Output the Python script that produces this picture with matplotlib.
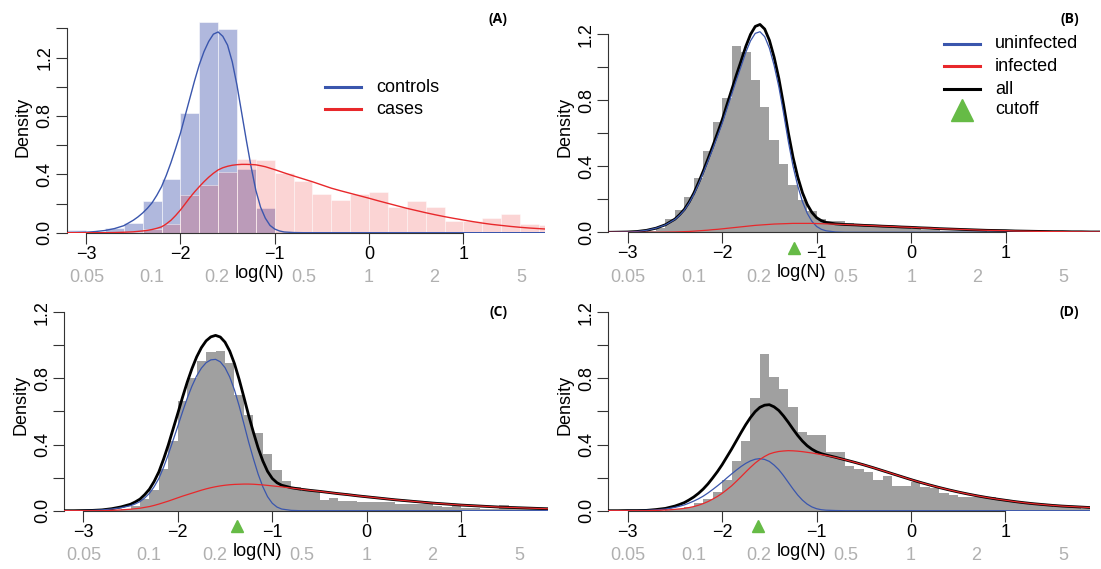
import numpy as np
import matplotlib
matplotlib.use("Agg")
import matplotlib.pyplot as plt
from matplotlib.lines import Line2D

plt.rcParams['font.family'] = ['Liberation Sans', 'DejaVu Sans']

W, H = 1101, 569

# ------------------------------------------------------------------ data
# log(N) positions at which the fitted density curves were read:
# every 0.1 in the tails, every 0.05 around the peaks (69 points)
curve_x = np.round(np.concatenate([np.arange(-3.2, -2.55, 0.1),
                                   np.arange(-2.5, -0.875, 0.05),
                                   np.arange(-0.8, 2.0001, 0.1)]), 2)

# Panel A : controls / cases (histogram bins of width 0.2 starting at -3.2)
a_bin_width = 0.2
a_controls_hist = [0.016, 0, 0.03, 0.066, 0.215, 0.366, 0.82, 1.445, 1.393, 0.434,
                   0.167, 0.004, 0, 0, 0, 0, 0, 0, 0, 0, 0, 0, 0, 0, 0, 0]
a_cases_hist = [0, 0, 0, 0.005, 0.025, 0.057, 0.258, 0.327, 0.418, 0.505,
                0.50, 0.407, 0.356, 0.265, 0.224, 0.265, 0.277, 0.176, 0.215, 0.176,
                0.078, 0.078, 0.10, 0.128, 0.06, 0.05]
a_controls_curve = ([0, 0.001, 0.003, 0.008, 0.015, 0.028, 0.048] +
                    [0.085, 0.108, 0.135, 0.167, 0.205, 0.256, 0.315, 0.392, 0.48, 0.578,
                     0.68, 0.80, 0.92, 1.04, 1.15, 1.24, 1.31, 1.36, 1.375, 1.345,
                     1.285, 1.17, 1.01, 0.82, 0.63, 0.45, 0.29, 0.175, 0.10, 0.05,
                     0.025, 0.012, 0.005] +
                    [0.001] + [0] * 28)
a_cases_curve = ([0, 0, 0, 0, 0, 0.001, 0.003] +
                 [0.006, 0.009, 0.012, 0.016, 0.022, 0.03, 0.04, 0.06, 0.085, 0.118,
                  0.155, 0.197, 0.24, 0.279, 0.315, 0.349, 0.38, 0.407, 0.43, 0.445,
                  0.455, 0.462, 0.466, 0.468, 0.468, 0.467, 0.465, 0.459, 0.452, 0.442,
                  0.432, 0.421, 0.41] +
                 [0.389, 0.369, 0.349, 0.327, 0.305, 0.287, 0.27, 0.253, 0.236, 0.218,
                  0.201, 0.184, 0.167, 0.152, 0.137, 0.123, 0.11, 0.098, 0.087, 0.076,
                  0.066, 0.057, 0.05, 0.043, 0.037, 0.032, 0.028, 0.024, 0.021])

# Panels B-D : all samples (histogram bins of width 0.1 starting at -3.2)
bcd_bin_width = 0.1
b_hist = [0, 0, 0, 0, 0.005, 0.024, 0.081, 0.137, 0.214, 0.329,
          0.494, 0.67, 0.813, 1.13, 1.095, 0.924, 0.756, 0.561, 0.415, 0.288,
          0.198, 0.131, 0.081, 0.067, 0.067, 0.055, 0.05, 0.042, 0.036, 0.032,
          0.028, 0.025, 0.02, 0.016, 0.012, 0.01, 0.008, 0.007, 0.006, 0.005,
          0.004, 0.003, 0.002, 0.002, 0.001, 0.001, 0.001, 0, 0, 0, 0, 0]
b_uninfected = ([0, 0.001, 0.002, 0.005, 0.012, 0.025, 0.045] +
                [0.078, 0.104, 0.135, 0.178, 0.23, 0.292, 0.36, 0.432, 0.505, 0.582,
                 0.66, 0.748, 0.835, 0.922, 1.005, 1.09, 1.16, 1.205, 1.215, 1.185,
                 1.115, 1.01, 0.88, 0.72, 0.55, 0.40, 0.28, 0.185, 0.115, 0.066,
                 0.035, 0.018, 0.009] +
                [0.002] + [0] * 28)
b_infected = ([0, 0, 0, 0, 0, 0, 0.001] +
              [0.002, 0.003, 0.004, 0.005, 0.007, 0.009, 0.011, 0.013, 0.016, 0.018,
               0.021, 0.024, 0.027, 0.03, 0.033, 0.036, 0.039, 0.042, 0.044, 0.046,
               0.048, 0.05, 0.051, 0.052, 0.053, 0.054, 0.054, 0.054, 0.054, 0.054,
               0.053, 0.052, 0.051] +
              [0.049, 0.047, 0.045, 0.042, 0.04, 0.037, 0.035, 0.032, 0.03, 0.027,
               0.025, 0.022, 0.02, 0.018, 0.016, 0.014, 0.012, 0.011, 0.01, 0.008,
               0.007, 0.006, 0.005, 0.004, 0.004, 0.003, 0.003, 0.002, 0.002])
b_cutoff = -1.24

c_hist = [0, 0, 0, 0, 0.002, 0.004, 0.01, 0.028, 0.071, 0.125,
          0.25, 0.42, 0.664, 0.803, 0.906, 0.962, 0.966, 0.891, 0.698, 0.579,
          0.468, 0.341, 0.246, 0.18, 0.145, 0.12, 0.125, 0.065, 0.075, 0.058,
          0.058, 0.05, 0.052, 0.05, 0.05, 0.04, 0.04, 0.04, 0.04, 0.028,
          0.025, 0.028, 0.014, 0.014, 0.012, 0.01, 0.034, 0.02, 0.02, 0.01,
          0.008, 0]
c_uninfected = ([0, 0, 0.001, 0.002, 0.005, 0.01, 0.018] +
                [0.03, 0.041, 0.055, 0.077, 0.105, 0.145, 0.195, 0.263, 0.34, 0.425,
                 0.51, 0.597, 0.68, 0.753, 0.815, 0.862, 0.895, 0.912, 0.915, 0.90,
                 0.865, 0.808, 0.73, 0.633, 0.525, 0.415, 0.315, 0.222, 0.145, 0.085,
                 0.045, 0.022, 0.01] +
                [0.002] + [0] * 28)
c_infected = ([0, 0, 0, 0, 0, 0.002, 0.005] +
              [0.009, 0.012, 0.015, 0.02, 0.025, 0.032, 0.04, 0.049, 0.058, 0.068,
               0.078, 0.088, 0.097, 0.106, 0.115, 0.124, 0.132, 0.139, 0.145, 0.15,
               0.154, 0.157, 0.159, 0.16, 0.161, 0.161, 0.16, 0.158, 0.156, 0.153,
               0.15, 0.147, 0.144] +
              [0.137, 0.13, 0.123, 0.117, 0.11, 0.103, 0.097, 0.09, 0.084, 0.078,
               0.072, 0.066, 0.061, 0.056, 0.051, 0.046, 0.042, 0.038, 0.034, 0.031,
               0.028, 0.025, 0.022, 0.02, 0.018, 0.016, 0.014, 0.012, 0.011])
c_cutoff = -1.37

d_hist = [0, 0, 0, 0, 0, 0, 0.005, 0.012, 0.025, 0.045,
          0.07, 0.115, 0.186, 0.30, 0.42, 0.684, 0.948, 0.809, 0.735, 0.627,
          0.475, 0.458, 0.458, 0.352, 0.355, 0.272, 0.252, 0.236, 0.186, 0.21,
          0.149, 0.149, 0.175, 0.145, 0.135, 0.105, 0.095, 0.085, 0.085, 0.091,
          0.081, 0.069, 0.059, 0.049, 0.045, 0.035, 0.029, 0.025, 0.021, 0.021,
          0.013, 0]
d_uninfected = ([0, 0, 0.001, 0.001, 0.002, 0.005, 0.01] +
                [0.02, 0.027, 0.035, 0.046, 0.058, 0.072, 0.088, 0.107, 0.128, 0.15,
                 0.173, 0.198, 0.222, 0.245, 0.267, 0.286, 0.301, 0.311, 0.315, 0.31,
                 0.298, 0.276, 0.248, 0.212, 0.172, 0.132, 0.095, 0.064, 0.04, 0.023,
                 0.012, 0.006, 0.003] +
                [0.001] + [0] * 28)
d_infected = ([0, 0, 0, 0, 0, 0.002, 0.004] +
              [0.008, 0.011, 0.014, 0.019, 0.025, 0.033, 0.043, 0.055, 0.07, 0.086,
               0.105, 0.127, 0.15, 0.177, 0.205, 0.234, 0.262, 0.288, 0.31, 0.328,
               0.343, 0.352, 0.358, 0.361, 0.363, 0.362, 0.36, 0.357, 0.353, 0.349,
               0.344, 0.339, 0.334] +
              [0.322, 0.308, 0.293, 0.277, 0.26, 0.242, 0.224, 0.206, 0.188, 0.171,
               0.155, 0.14, 0.126, 0.113, 0.101, 0.09, 0.08, 0.071, 0.063, 0.055,
               0.048, 0.042, 0.037, 0.032, 0.028, 0.025, 0.022, 0.019, 0.017])
d_cutoff = -1.625

hist_start = -3.2
major_ticks = [-3, -2, -1, 0, 1]
natural_scale_labels = ['0.05', '0.1', '0.2', '0.5', '1', '2', '5']
legend_a = ['controls', 'cases']
legend_b = ['uninfected', 'infected', 'all', 'cutoff']
panel_tags = ['(A)', '(B)', '(C)', '(D)']

# ------------------------------------------------------------------ style
BLUE = '#3a56ad'
RED = '#e8282b'
GREEN = '#66bb46'
GRAY_BAR = '#a0a0a0'
GRAY_TXT = '#b0b0b0'
AXC = '#333333'
FS = 13

fig = plt.figure(figsize=(W / 100, H / 100), dpi=100)


def rect(l, r, t, b):
    return [l / W, 1 - b / H, (r - l) / W, (b - t) / H]


def fxy(x, y):
    return (x / W, 1 - y / H)


def style(ax, xlim, ytop, ymax_tick):
    ax.set_xlim(*xlim)
    ax.set_ylim(0, ytop)
    ax.patch.set_visible(False)
    for s in ['top', 'right']:
        ax.spines[s].set_visible(False)
    for s in ['left', 'bottom']:
        ax.spines[s].set_color(AXC)
        ax.spines[s].set_linewidth(0.8)
    ax.spines['left'].set_bounds(0, ymax_tick)
    ax.spines['bottom'].set_bounds(major_ticks[0], major_ticks[-1])
    ax.set_xticks(major_ticks)
    yt = np.round(np.arange(0, ymax_tick + 1e-9, 0.2), 1)
    ax.set_yticks(yt)
    ax.set_yticklabels([f'{v:.1f}' if int(round(v * 10)) % 4 == 0 else '' for v in yt],
                       rotation=90, va='center')
    ax.tick_params(length=8, width=0.8, color=AXC, labelsize=FS, pad=1.5)
    tr = ax.get_xaxis_transform()
    for lab in natural_scale_labels:
        ax.annotate(lab, xy=(np.log(float(lab)), 0), xycoords=tr, xytext=(0, -32.3),
                    textcoords='offset points', ha='center', va='center',
                    color=GRAY_TXT, fontsize=FS, annotation_clip=False)
    ax.annotate('log(N)', xy=(-1.16, 0), xycoords=tr, xytext=(0, -29.2),
                textcoords='offset points', ha='center', va='center',
                color='black', fontsize=FS, annotation_clip=False)


def bars(ax, heights, width, color, ec='none', lw=0):
    left = hist_start + width * np.arange(len(heights))
    ax.bar(left, heights, width=width, align='edge', color=color,
           edgecolor=ec, linewidth=lw, zorder=1)


# ---------------- Panel A
axA = fig.add_axes(rect(66.7, 545, 20, 232.7))
style(axA, (-3.205, 1.865), 1.457, 1.4)
bars(axA, a_controls_hist, a_bin_width, (0.23, 0.31, 0.67, 0.40), ec=(1, 1, 1, 0.6), lw=0.6)
bars(axA, a_cases_hist, a_bin_width, (0.92, 0.16, 0.16, 0.20), ec=(1, 1, 1, 0.5), lw=0.6)
axA.plot(curve_x, a_controls_curve, color=BLUE, lw=1.0, zorder=3)
axA.plot(curve_x, a_cases_curve, color=RED, lw=1.0, zorder=4)

# ---------------- Panels B-D
specs = [
    (rect(608.3, 1100, 20, 232.3), (-3.205, 1.998), b_hist, b_uninfected, b_infected, b_cutoff),
    (rect(64, 548, 298, 510.7), (-3.204, 1.918), c_hist, c_uninfected, c_infected, c_cutoff),
    (rect(608.3, 1090, 298, 510.7), (-3.205, 1.895), d_hist, d_uninfected, d_infected, d_cutoff),
]
for r, xl, hist, uninf, inf, cut in specs:
    ax = fig.add_axes(r)
    style(ax, xl, 1.286, 1.2)
    bars(ax, hist, bcd_bin_width, GRAY_BAR)
    total = np.array(uninf) + np.array(inf)
    ax.plot(curve_x, total, color='black', lw=2.0, zorder=3)
    ax.plot(curve_x, uninf, color=BLUE, lw=0.9, zorder=4)
    ax.plot(curve_x, inf, color=RED, lw=0.9, zorder=5)
    ax.plot([cut], [-0.074], transform=ax.get_xaxis_transform(), marker='^', ms=9,
            color=GREEN, mec=GREEN, clip_on=False, zorder=6)

# ---------------- y labels
for x, y in [(23, 127), (565, 127), (21, 405), (565, 405)]:
    fig.text(*fxy(x, y), 'Density', rotation=90, ha='center', va='center', fontsize=FS)

# ---------------- panel tags
for tag, (x, y) in zip(panel_tags, [(498, 19), (1070, 19), (499, 312), (1069, 312)]):
    fig.text(*fxy(x, y), tag, ha='center', va='center', fontsize=10,
             fontweight='bold', family=['Open Sans', 'DejaVu Sans'])

# ---------------- legend A
for lab, col, y in zip(legend_a, [BLUE, RED], [87, 109]):
    x0, y0 = fxy(325, y)
    x1, _ = fxy(361, y)
    fig.add_artist(Line2D([x0, x1], [y0, y0], color=col, lw=2.2, transform=fig.transFigure))
    fig.text(*fxy(376, y), lab, ha='left', va='center', fontsize=FS)

# ---------------- legend B
for lab, col, y in zip(legend_b, [BLUE, RED, 'black', None], [44, 66, 89, 110]):
    if col is not None:
        x0, y0 = fxy(944, y)
        x1, _ = fxy(980, y)
        fig.add_artist(Line2D([x0, x1], [y0, y0], color=col, lw=2.2, transform=fig.transFigure))
    else:
        x0, y0 = fxy(962, y)
        fig.add_artist(Line2D([x0], [y0], marker='^', ms=16, color=GREEN, mec=GREEN,
                              transform=fig.transFigure))
    fig.text(*fxy(995, y), lab, ha='left', va='center', fontsize=FS)

fig.savefig('out.png', dpi=100)
